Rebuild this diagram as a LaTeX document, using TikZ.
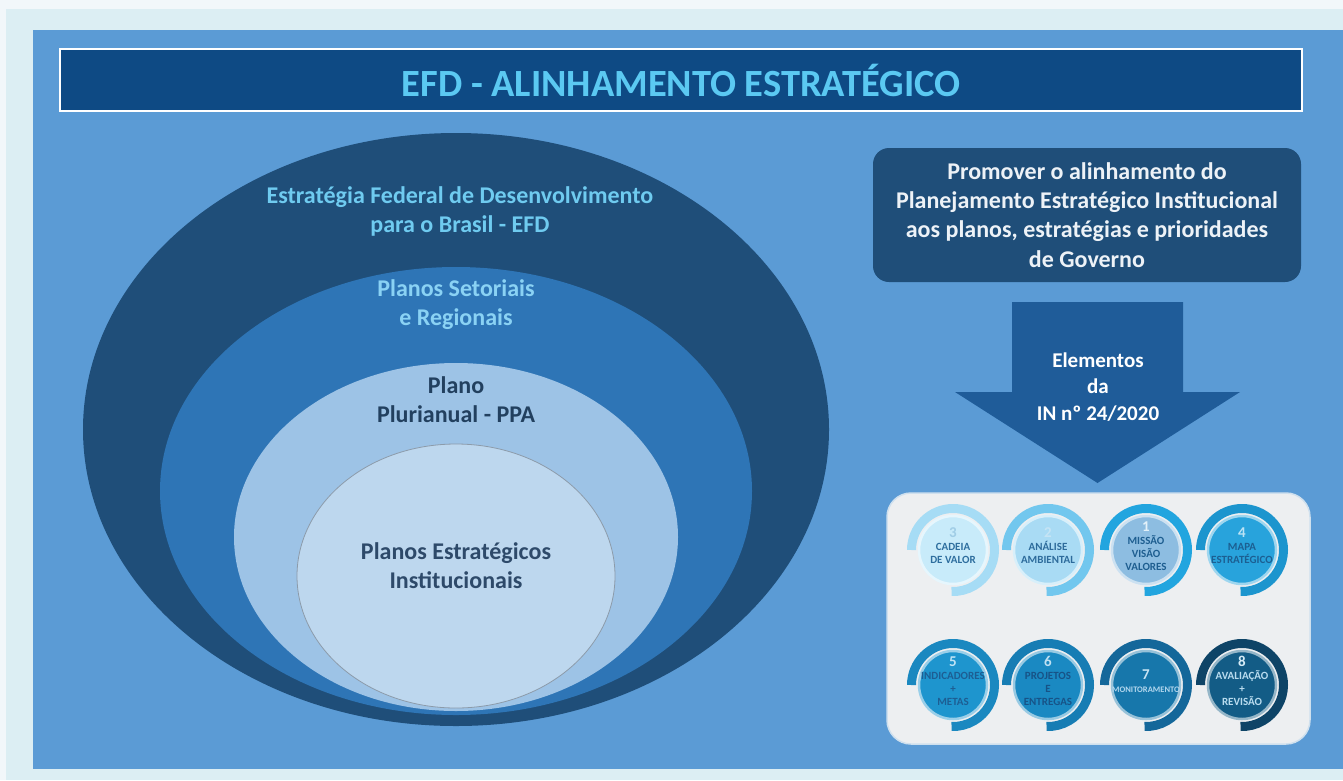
\documentclass[tikz,border=0pt]{standalone}
\usepackage{fontspec}
\setmainfont{Carlito}
\definecolor{bgpale}{HTML}{DCEEF3}
\definecolor{stripw}{HTML}{F2F7FA}
\definecolor{panel}{HTML}{5B9BD5}
\definecolor{titleblue}{HTML}{0E4A84}
\definecolor{titletxt}{HTML}{5BC9F2}
\definecolor{ellA}{HTML}{1F4E79}
\definecolor{ellB}{HTML}{2E75B6}
\definecolor{ellC}{HTML}{9DC3E6}
\definecolor{ellD}{HTML}{BDD7EE}
\definecolor{ellDedge}{HTML}{8C9BAA}
\definecolor{txtefd}{HTML}{6FCBF0}
\definecolor{txtset}{HTML}{8AD2F4}
\definecolor{txtppa}{HTML}{22405F}
\definecolor{txtpei}{HTML}{2E4A6A}
\definecolor{boxnavy}{HTML}{1F4E79}
\definecolor{boxtxt}{HTML}{EDF2F7}
\definecolor{arrowblue}{HTML}{1F5C99}
\definecolor{panelgray}{HTML}{EDEFF1}
\definecolor{paneledge}{HTML}{CFE0EE}
% step circles: ring, disk, text, digit
\definecolor{c1ring}{HTML}{A6DCF5}\definecolor{c1disk}{HTML}{C8EBFA}\definecolor{c1txt}{HTML}{2E6E9E}\definecolor{c1dig}{HTML}{A0CDE6}
\definecolor{c2ring}{HTML}{72C7EE}\definecolor{c2disk}{HTML}{A9DBF4}\definecolor{c2txt}{HTML}{2D6B9B}\definecolor{c2dig}{HTML}{C5E4F4}
\definecolor{c3ring}{HTML}{22A5DF}\definecolor{c3disk}{HTML}{8DBDE1}\definecolor{c3txt}{HTML}{1E5E90}\definecolor{c3dig}{HTML}{E3F1F9}
\definecolor{c4ring}{HTML}{1C95CE}\definecolor{c4disk}{HTML}{28A3DC}\definecolor{c4txt}{HTML}{1C5F92}\definecolor{c4dig}{HTML}{BCE3F5}
\definecolor{c5ring}{HTML}{1A88C0}\definecolor{c5disk}{HTML}{1E95CE}\definecolor{c5txt}{HTML}{1D5E93}\definecolor{c5dig}{HTML}{BFE3F5}
\definecolor{c6ring}{HTML}{177DB4}\definecolor{c6disk}{HTML}{1A89C2}\definecolor{c6txt}{HTML}{175387}\definecolor{c6dig}{HTML}{BFE0F2}
\definecolor{c7ring}{HTML}{14679A}\definecolor{c7disk}{HTML}{1777AB}\definecolor{c7txt}{HTML}{B2D7EE}\definecolor{c7dig}{HTML}{C8E4F4}
\definecolor{c8ring}{HTML}{0E4467}\definecolor{c8disk}{HTML}{135C86}\definecolor{c8txt}{HTML}{B9DCEF}\definecolor{c8dig}{HTML}{D5EBF6}
\newcommand{\elemcirc}[5]{%
  \draw[#3ring, line width=9pt] (#2) ++(180:41.5) arc[start angle=180, end angle=452, radius=41.5];
  \fill[#3disk] (#2) circle[radius=34];
  \draw[#3disk!45!white, line width=2.5pt] (#2) circle[radius=34];
  \node[circtxt, text=#3txt] (#1) at ([yshift=4pt]#2) {{\color{#3dig}\fontsize{15}{16}\selectfont #4}\\#5};
}
\begin{document}
\begin{tikzpicture}[x=1pt,y=-1pt,
  lbl/.style={align=center, font=\bfseries\fontsize{24}{29}\selectfont, inner sep=0pt},
  circtxt/.style={align=center, font=\bfseries\fontsize{11}{13}\selectfont, inner sep=0pt}]
\useasboundingbox (0,0) rectangle (1343,780);
\fill[bgpale] (0,0) rectangle (1343,780);
\fill[stripw] (0,0) rectangle (1343,9);
\fill[stripw] (0,0) rectangle (6,780);
\fill[panel] (33,30) rectangle (1343,769);

% title
\draw[white, line width=2.5pt, fill=titleblue] (60,49) rectangle (1302,111);
\node[inner sep=0pt, text=titletxt, font=\bfseries\fontsize{38.5}{44}\selectfont] (title) at (681,80) {EFD - ALINHAMENTO ESTRATÉGICO};

% nested ellipses
\fill[ellA] (456,429.5) ellipse [x radius=373, y radius=296.5];
\fill[ellB] (456,491) ellipse [x radius=296, y radius=224];
\fill[ellC] (456,537) ellipse [x radius=222, y radius=174];
\filldraw[fill=ellD, draw=ellDedge, line width=0.8pt] (456,576) ellipse [x radius=159, y radius=132];

\node[lbl, text=txtefd] (efd) at (460,211) {Estratégia Federal de Desenvolvimento\\para o Brasil - EFD};
\node[lbl, text=txtset] (set) at (456,305) {Planos Setoriais\\e Regionais};
\node[lbl, text=txtppa] (ppa) at (456,400) {Plano\\Plurianual - PPA};
\node[lbl, text=txtpei] (pei) at (456,566) {Planos Estratégicos\\Institucionais};

% right box
\fill[boxnavy, rounded corners=16pt] (873,148) rectangle (1301,282);
\node[lbl, text=boxtxt, font=\bfseries\fontsize{24}{29.3}\selectfont] (goal) at (1087,215) {Promover o alinhamento do\\Planejamento Estratégico Institucional\\aos planos, estratégias e prioridades\\de Governo};

% arrow
\fill[arrowblue] (1012,302) -- (1183,302) -- (1183,392) -- (1240,392) -- (1097.5,483) -- (955,392) -- (1012,392) -- cycle;
\node[lbl, text=white, font=\bfseries\fontsize{21}{26.5}\selectfont] (elem) at (1098,387) {Elementos\\da\\IN nº 24/2020};

% bottom panel
\filldraw[fill=panelgray, draw=paneledge, line width=1.5pt, rounded corners=24pt] (887,493) rectangle (1310,744);

\elemcirc{e1}{953,550}{c1}{3}{CADEIA\\DE VALOR}
\elemcirc{e2}{1048,550}{c2}{2}{ANÁLISE\\AMBIENTAL}
\elemcirc{e3}{1146,550}{c3}{1}{MISSÃO\\VISÃO\\VALORES}
\elemcirc{e4}{1242,550}{c4}{4}{MAPA\\ESTRATÉGICO}
\elemcirc{e5}{953,685}{c5}{5}{INDICADORES\\+\\METAS}
\elemcirc{e6}{1048,685}{c6}{6}{PROJETOS\\E\\ENTREGAS}
\elemcirc{e7}{1146,685}{c7}{7}{{\fontsize{8.5}{10}\selectfont MONITORAMENTO}}
\elemcirc{e8}{1242,685}{c8}{8}{AVALIAÇÃO\\+\\REVISÃO}
\end{tikzpicture}
\end{document}
